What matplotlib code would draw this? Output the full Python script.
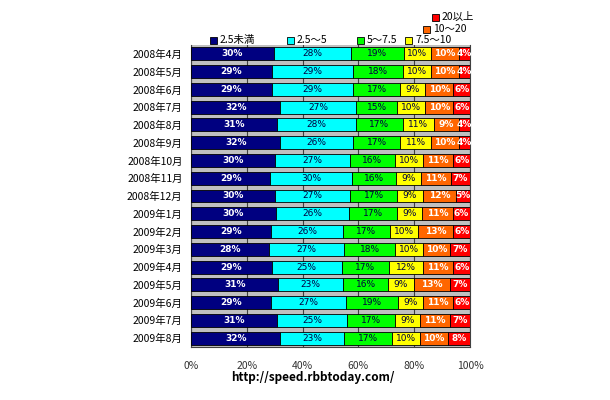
import numpy as np
import matplotlib
matplotlib.use('Agg')
from matplotlib import pyplot as plt

plt.rcParams['font.family'] = ['Noto Sans CJK JP', 'DejaVu Sans']

months = ['2008年4月', '2008年5月', '2008年6月', '2008年7月', '2008年8月', '2008年9月',
          '2008年10月', '2008年11月', '2008年12月', '2009年1月', '2009年2月', '2009年3月',
          '2009年4月', '2009年5月', '2009年6月', '2009年7月', '2009年8月']
categories = ['2.5未満', '2.5～5', '5～7.5', '7.5～10', '10～20', '20以上']

under_2_5 = [30, 29, 29, 32, 31, 32, 30, 29, 30, 30, 29, 28, 29, 31, 29, 31, 32]
r2_5_5 = [28, 29, 29, 27, 28, 26, 27, 30, 27, 26, 26, 27, 25, 23, 27, 25, 23]
r5_7_5 = [19, 18, 17, 15, 17, 17, 16, 16, 17, 17, 17, 18, 17, 16, 19, 17, 17]
r7_5_10 = [10, 10, 9, 10, 11, 11, 10, 9, 9, 9, 10, 10, 12, 9, 9, 9, 10]
r10_20 = [10, 10, 10, 10, 9, 10, 11, 11, 12, 11, 13, 10, 11, 13, 11, 11, 10]
over_20 = [4, 4, 6, 6, 4, 4, 6, 7, 5, 6, 6, 7, 6, 7, 6, 7, 8]

series = [under_2_5, r2_5_5, r5_7_5, r7_5_10, r10_20, over_20]
colors = ['#000080', '#00FFFF', '#00FF00', '#FFFF00', '#FF6600', '#FF0000']
text_colors = ['white', '#000040', '#000040', '#000040', 'white', 'white']

data = np.array(series, dtype=float)
shares = data / data.sum(axis=0) * 100

fig = plt.figure(figsize=(6.1, 4.0), dpi=100)
ax = fig.add_axes([191 / 610, 1 - 347 / 400, 279 / 610, 302 / 400])
ax.set_facecolor('#C0C0C0')

y = np.arange(len(months))
left = np.zeros(len(months))
for i, vals in enumerate(shares):
    bars = ax.barh(y, vals, left=left, height=0.73, color=colors[i],
                   edgecolor='black', linewidth=0.6, zorder=3)
    for j, b in enumerate(bars):
        ax.text(b.get_x() + b.get_width() / 2, b.get_y() + b.get_height() / 2,
                '%d%%' % series[i][j], ha='center', va='center',
                fontsize=6.5, color=text_colors[i],
                fontweight='bold' if text_colors[i] == 'white' else 'normal',
                family='DejaVu Sans', zorder=4)
    left += vals

ax.set_xlim(0, 100)
ax.set_ylim(len(months) - 0.5, -0.5)
ax.set_xticks([0, 20, 40, 60, 80, 100])
ax.set_xticklabels(['0%', '20%', '40%', '60%', '80%', '100%'], fontsize=7.5,
                   color='#333333')
ax.tick_params(axis='x', length=0, pad=10)
ax.set_yticks(y)
ax.set_yticklabels(months, fontsize=7.5)
ax.tick_params(axis='y', length=0, pad=6)
ax.grid(axis='x', color='#404040', linewidth=0.8, zorder=1)
for s in ax.spines.values():
    s.set_color('#404040')
ax.spines['top'].set_visible(False)

# staircase legend
legend_pos = [(210, 40), (287, 40), (357, 40), (405, 40), (423, 29), (432, 17)]
for (px, py), c, lab in zip(legend_pos, colors, categories):
    fx, fy = px / 610, 1 - py / 400
    fig.patches.append(plt.Rectangle((fx, fy - 3.5 / 400), 7 / 610, 7 / 400,
                                     transform=fig.transFigure, facecolor=c,
                                     edgecolor='black', linewidth=0.6))
    fig.text(fx + 10 / 610, fy, lab, fontsize=7.5, va='center', ha='left')

fig.text(313 / 610, 1 - 378 / 400, 'http://speed.rbbtoday.com/', fontsize=8.5,
         ha='center', va='center', family='Noto Sans CJK JP', fontweight='bold')

fig.savefig('out.png', dpi=100)
